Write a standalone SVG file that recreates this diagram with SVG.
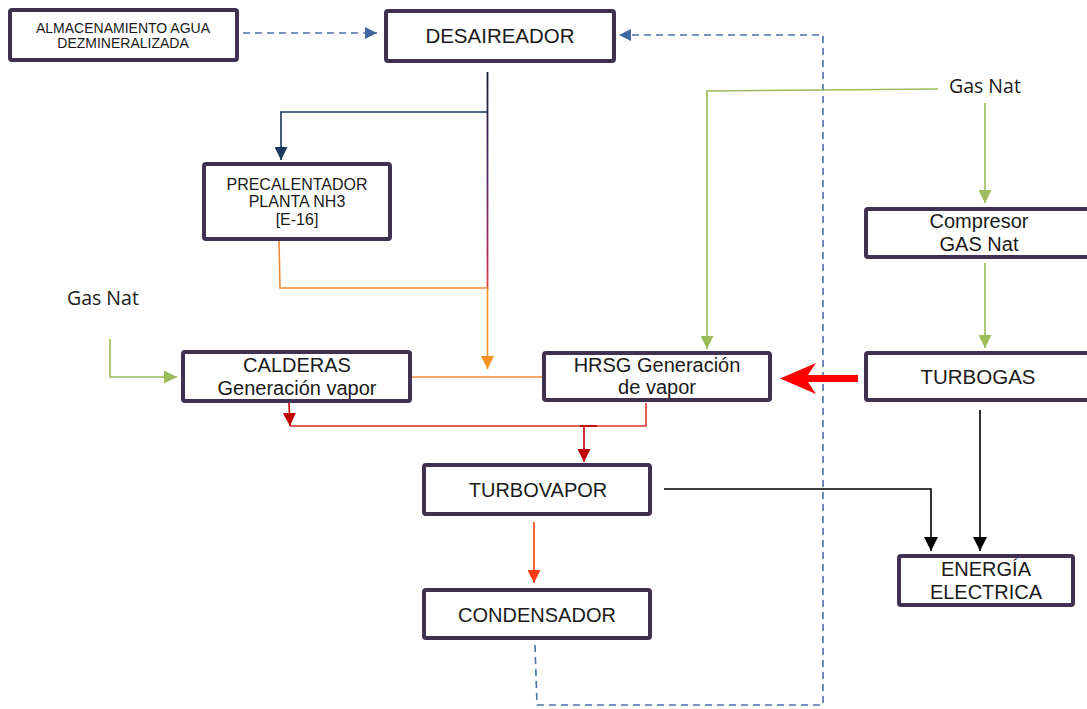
<svg xmlns="http://www.w3.org/2000/svg" width="1087" height="709" viewBox="0 0 1087 709">
  <style>
    .box { fill: #ffffff; stroke: #403152; stroke-width: 4; }
    .t { font-family: "Liberation Sans", Arial, sans-serif; fill: #1a1a1a; text-anchor: middle; }
    .lbl { font-family: "Open Sans", "Noto Sans", sans-serif; font-size: 19.5px; fill: #1a1a1a; }
    .dash { fill: none; stroke: #4a72a8; stroke-width: 1.6; stroke-dasharray: 7 5; }
    .ln { fill: none; stroke-width: 1.6; }
  </style>
  <defs>
    <marker id="ah-blue" viewBox="0 0 12 12" refX="12" refY="6" markerWidth="14" markerHeight="12" markerUnits="userSpaceOnUse" orient="auto">
      <path d="M0,0 L12,6 L0,12 z" fill="#3f68a0"/>
    </marker>
    <marker id="ah-navy" viewBox="0 0 12 12" refX="12" refY="6" markerWidth="13" markerHeight="13" markerUnits="userSpaceOnUse" orient="auto">
      <path d="M0,0 L12,6 L0,12 z" fill="#17375e"/>
    </marker>
    <marker id="ah-green" viewBox="0 0 12 12" refX="12" refY="6" markerWidth="14" markerHeight="13" markerUnits="userSpaceOnUse" orient="auto">
      <path d="M0,0 L12,6 L0,12 z" fill="#9bbb59"/>
    </marker>
    <marker id="ah-orange" viewBox="0 0 12 12" refX="12" refY="6" markerWidth="13" markerHeight="13" markerUnits="userSpaceOnUse" orient="auto">
      <path d="M0,0 L12,6 L0,12 z" fill="#f7901e"/>
    </marker>
    <marker id="ah-dred" viewBox="0 0 12 12" refX="12" refY="6" markerWidth="13" markerHeight="13" markerUnits="userSpaceOnUse" orient="auto">
      <path d="M0,0 L12,6 L0,12 z" fill="#c00000"/>
    </marker>
    <marker id="ah-ored" viewBox="0 0 12 12" refX="12" refY="6" markerWidth="13" markerHeight="13" markerUnits="userSpaceOnUse" orient="auto">
      <path d="M0,0 L12,6 L0,12 z" fill="#ff3c14"/>
    </marker>
    <marker id="ah-black" viewBox="0 0 12 12" refX="12" refY="6" markerWidth="14" markerHeight="14" markerUnits="userSpaceOnUse" orient="auto">
      <path d="M0,0 L12,6 L0,12 z" fill="#000000"/>
    </marker>
    <linearGradient id="feed" gradientUnits="userSpaceOnUse" x1="0" y1="72" x2="0" y2="290">
      <stop offset="0" stop-color="#141c38"/>
      <stop offset="0.5" stop-color="#5a2a66"/>
      <stop offset="0.85" stop-color="#b02a5a"/>
      <stop offset="1" stop-color="#e0503a"/>
    </linearGradient>
  </defs>

  <!-- connectors -->
  <g id="connectors">
    <!-- demineralized water to deaerator -->
    <line class="dash" x1="243" y1="33" x2="377" y2="33" marker-end="url(#ah-blue)"/>
    <!-- condensate return -->
    <path class="dash" d="M535,645 L537,705 L823,705 L823,35 L619,35" marker-end="url(#ah-blue)"/>

    <!-- deaerator outlet -->
    <line x1="487.5" y1="72" x2="487.5" y2="289" stroke="url(#feed)" stroke-width="1.8"/>
    <path class="ln" stroke="#17375e" d="M487.5,112 L281,112 L281,160" marker-end="url(#ah-navy)"/>
    <path class="ln" stroke="#f0883a" d="M279,241 L280,288 L487.5,288"/>
    <line class="ln" stroke="#f7901e" x1="487.5" y1="288" x2="487.5" y2="369" marker-end="url(#ah-orange)"/>
    <line class="ln" stroke="#f0883a" x1="412" y1="377" x2="543" y2="377"/>

    <!-- natural gas -->
    <path class="ln" stroke="#9bbb59" d="M110,339 L110,377 L177,377" marker-end="url(#ah-green)"/>
    <path class="ln" stroke="#9bbb59" d="M938,89 L707,91 L707,349" marker-end="url(#ah-green)"/>
    <line class="ln" stroke="#9bbb59" x1="985" y1="103" x2="985" y2="203" marker-end="url(#ah-green)"/>
    <line class="ln" stroke="#9bbb59" x1="985" y1="263" x2="985" y2="348" marker-end="url(#ah-green)"/>

    <!-- exhaust gas to HRSG -->
    <path d="M780,378.5 L816,363 L808,375 L858,375 L858,382 L808,382 L816,394 Z" fill="#ff0000"/>

    <!-- steam lines -->
    <line class="ln" stroke="#c00000" x1="289" y1="403" x2="290" y2="426" marker-end="url(#ah-dred)"/>
    <path class="ln" stroke="#d42a2a" d="M290,426 L597,426"/>
    <path class="ln" stroke="#e03535" d="M646,403 L646,426 L580,426"/>
    <line class="ln" stroke="#c00000" x1="580" y1="426" x2="597" y2="426"/>
    <line class="ln" stroke="#c00000" x1="584" y1="426" x2="584" y2="462" marker-end="url(#ah-dred)"/>
    <line class="ln" stroke="#ff3c14" x1="534" y1="522" x2="534" y2="583" marker-end="url(#ah-ored)"/>

    <!-- power -->
    <path class="ln" stroke="#000000" d="M664,489 L931,489 L931,551" marker-end="url(#ah-black)"/>
    <line class="ln" stroke="#000000" x1="980" y1="410" x2="980" y2="551" marker-end="url(#ah-black)"/>
  </g>

  <!-- free labels -->
  <g id="gasnat-left"><text class="lbl" x="67" y="305">Gas Nat</text></g>
  <g id="gasnat-right"><text class="lbl" x="949" y="93">Gas Nat</text></g>

  <!-- nodes -->
  <g id="almacenamiento">
    <rect class="box" x="10" y="10" width="227" height="50" rx="2"/>
    <text class="t" x="123" y="33" font-size="14">ALMACENAMIENTO AGUA</text>
    <text class="t" x="123" y="48" font-size="14">DEZMINERALIZADA</text>
  </g>
  <g id="desaireador">
    <rect class="box" x="386" y="11" width="228" height="50" rx="2"/>
    <text class="t" x="500" y="43" font-size="20.5">DESAIREADOR</text>
  </g>
  <g id="precalentador">
    <rect class="box" x="204" y="164" width="186" height="75" rx="2"/>
    <text class="t" x="297" y="190" font-size="16">PRECALENTADOR</text>
    <text class="t" x="297" y="207" font-size="16">PLANTA NH3</text>
    <text class="t" x="297" y="225" font-size="16">[E-16]</text>
  </g>
  <g id="calderas">
    <rect class="box" x="183" y="352" width="227" height="49" rx="2"/>
    <text class="t" x="297" y="372" font-size="20">CALDERAS</text>
    <text class="t" x="297" y="395" font-size="20">Generación vapor</text>
  </g>
  <g id="hrsg">
    <rect class="box" x="544" y="353" width="226" height="47" rx="2"/>
    <text class="t" x="657" y="372" font-size="20">HRSG Generación</text>
    <text class="t" x="657" y="394" font-size="20">de vapor</text>
  </g>
  <g id="compresor">
    <rect class="box" x="866" y="209" width="230" height="48" rx="2"/>
    <text class="t" x="979" y="228" font-size="20">Compresor</text>
    <text class="t" x="979" y="251" font-size="20">GAS Nat</text>
  </g>
  <g id="turbogas">
    <rect class="box" x="866" y="353" width="230" height="47" rx="2"/>
    <text class="t" x="978" y="384" font-size="20.5">TURBOGAS</text>
  </g>
  <g id="turbovapor">
    <rect class="box" x="424" y="465" width="226" height="49" rx="2"/>
    <text class="t" x="538" y="497" font-size="20">TURBOVAPOR</text>
  </g>
  <g id="condensador">
    <rect class="box" x="424" y="590" width="226" height="48" rx="2"/>
    <text class="t" x="537" y="622" font-size="20">CONDENSADOR</text>
  </g>
  <g id="energia">
    <rect class="box" x="899" y="556" width="174" height="49" rx="2"/>
    <text class="t" x="986" y="576" font-size="20">ENERGÍA</text>
    <text class="t" x="986" y="599" font-size="20">ELECTRICA</text>
  </g>
</svg>
